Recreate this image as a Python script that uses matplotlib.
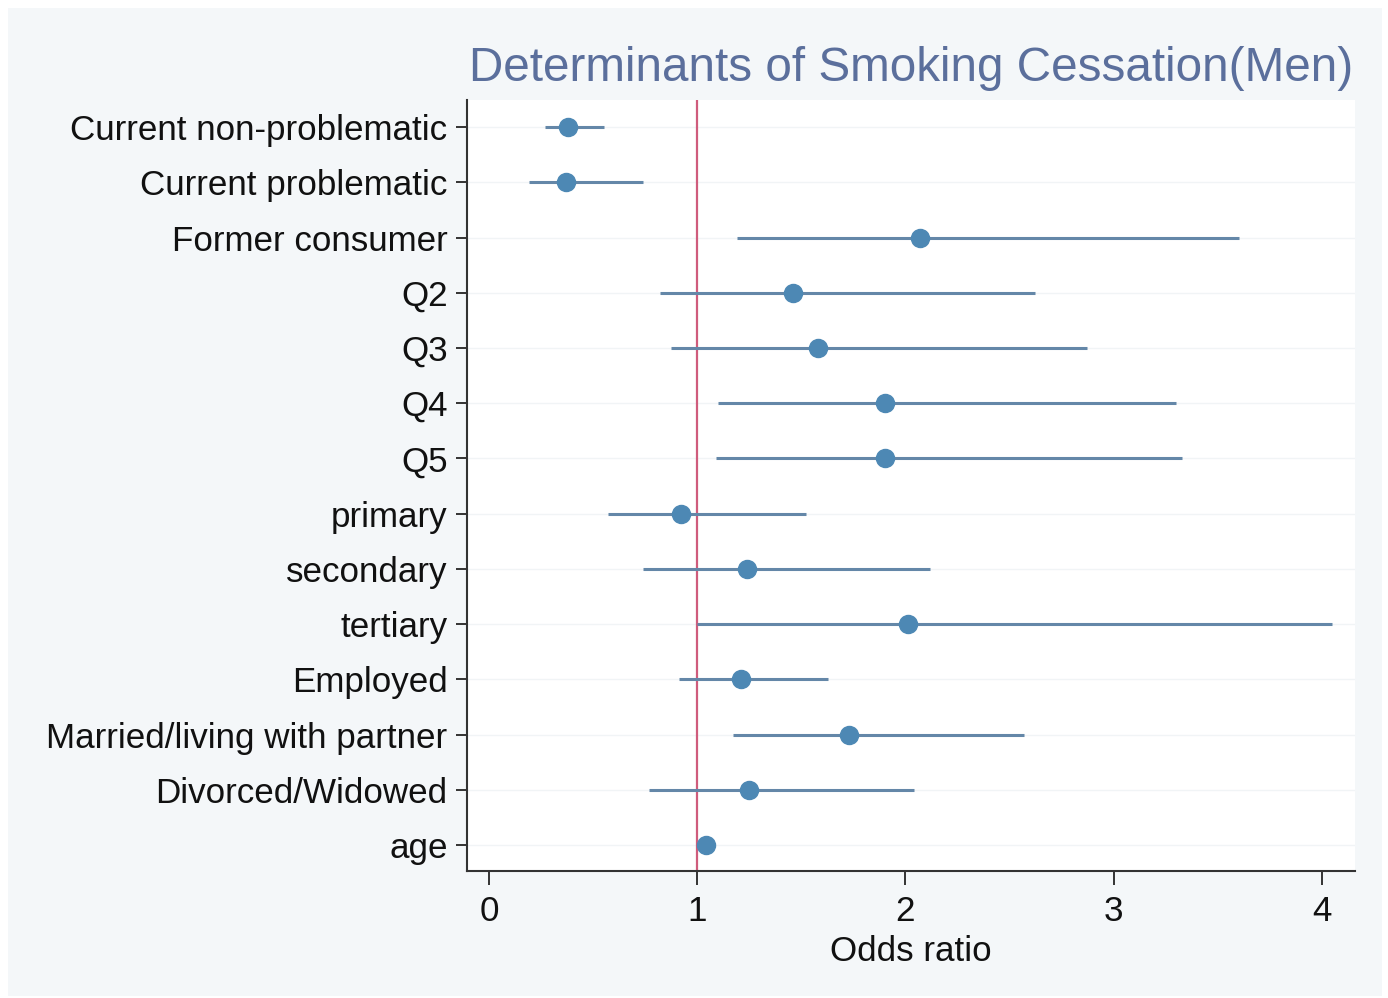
import matplotlib
matplotlib.use("Agg")
import matplotlib.pyplot as plt
from matplotlib.patches import Rectangle

# Odds ratios with 95% confidence intervals, top row first
labels = [
    "Current non-problematic",
    "Current problematic",
    "Former consumer",
    "Q2",
    "Q3",
    "Q4",
    "Q5",
    "primary",
    "secondary",
    "tertiary",
    "Employed",
    "Married/living with partner",
    "Divorced/Widowed",
    "age",
]
odds_ratio = [0.38, 0.37, 2.07, 1.46, 1.58, 1.90, 1.90, 0.92, 1.24, 2.01, 1.21, 1.73, 1.25, 1.04]
ci_low = [0.27, 0.19, 1.19, 0.82, 0.875, 1.10, 1.09, 0.57, 0.74, 1.00, 0.91, 1.17, 0.77, 1.03]
ci_high = [0.55, 0.74, 3.60, 2.62, 2.87, 3.30, 3.33, 1.52, 2.12, 4.05, 1.63, 2.57, 2.04, 1.05]
x_ticks = [0, 1, 2, 3, 4]

plt.rcParams["font.family"] = ["Liberation Sans", "DejaVu Sans"]

fig = plt.figure(figsize=(13.88, 9.98), dpi=100, facecolor="white")
# light graph region behind the plot
fig.patches.append(
    Rectangle((8 / 1388, 2 / 998), 1374 / 1388, 988 / 998,
              transform=fig.transFigure, facecolor="#f4f7f9",
              edgecolor="none", zorder=-1)
)

ax = fig.add_axes([0.3365, 0.1273, 0.6398, 0.7725])
ax.set_facecolor("white")

y = list(range(len(labels)))

# faint row gridlines
for yi in y:
    ax.axhline(yi, color="#f1f4f6", lw=1.0, zorder=0)

ax.axvline(1, color="#cf5c7c", lw=1.6, zorder=1)

ax.hlines(y, ci_low, ci_high, color="#6487a8", lw=2.2, zorder=2)
ax.plot(odds_ratio, y, "o", color="#4d88b4", markersize=13, zorder=3)

ax.set_ylim(len(labels) - 1 + 0.47, -0.49)
ax.set_xlim(-0.106, 4.16)
ax.set_yticks(y)
ax.set_yticklabels(labels, fontsize=25.2, color="#111111")
ax.set_xticks(x_ticks)
ax.set_xticklabels([str(t) for t in x_ticks], fontsize=25.2, color="#111111")

ax.tick_params(axis="y", length=8, width=1.4, pad=6, color="#333333")
ax.tick_params(axis="x", length=10, width=1.4, pad=7, color="#333333")

for side in ["top", "right"]:
    ax.spines[side].set_visible(False)
for side in ["left", "bottom"]:
    ax.spines[side].set_color("#333333")
    ax.spines[side].set_linewidth(1.5)

ax.set_xlabel("Odds ratio", fontsize=25.2, color="#111111", labelpad=5)
ax.set_title("Determinants of Smoking Cessation(Men)", fontsize=34.3,
             color="#5b6f9c", pad=14)

fig.savefig("out.png", dpi=100, facecolor=fig.get_facecolor())
